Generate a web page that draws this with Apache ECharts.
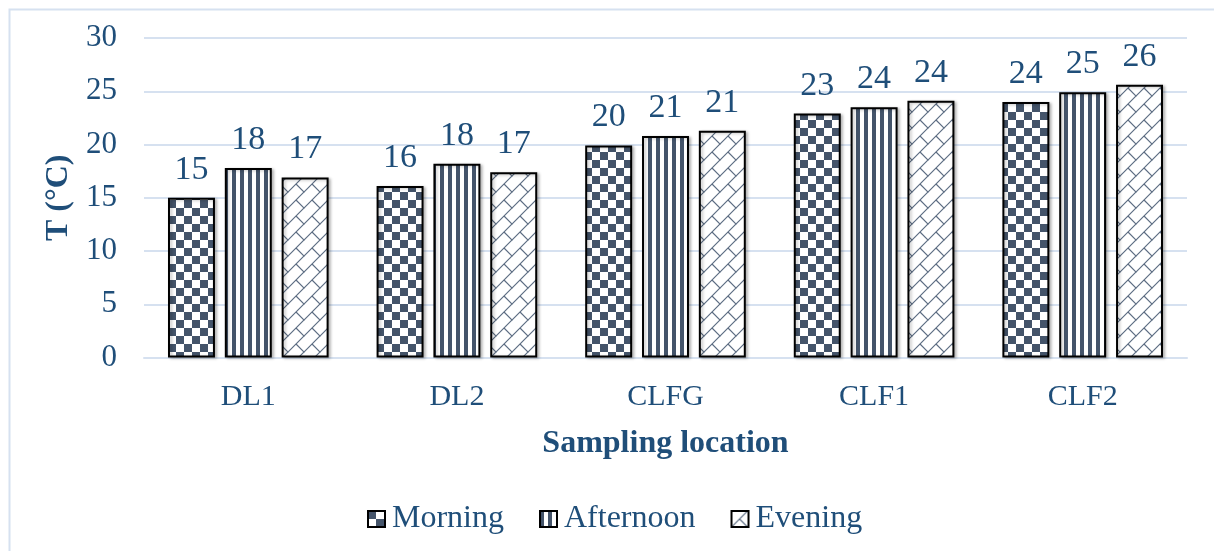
<!DOCTYPE html>
<html>
<head>
<meta charset="utf-8">
<script src="https://cdn.jsdelivr.net/npm/echarts@6/dist/echarts.min.js"></script>
<style>
  html, body { margin: 0; padding: 0; background: #fff; }
  #chart { width: 1214px; height: 551px; }
</style>
</head>
<body>
<div id="chart"></div>
<script>
// Temperature by sampling location and time of day
const categories = ['DL1', 'DL2', 'CLFG', 'CLF1', 'CLF2'];
const morning   = [15.0, 16.1, 19.9, 22.9, 24.0];
const afternoon = [17.8, 18.2, 20.8, 23.5, 24.9];
const evening   = [16.9, 17.4, 21.3, 24.1, 25.6];
const seriesNames = ['Morning', 'Afternoon', 'Evening'];

const INK = '#44546A';
const TEXT = '#1F4E79';
const FONT = '"Liberation Serif", "Times New Roman", serif';

function makeTile(w, h, draw) {
  const c = document.createElement('canvas');
  c.width = w; c.height = h;
  const ctx = c.getContext('2d');
  ctx.fillStyle = '#fff';
  ctx.fillRect(0, 0, w, h);
  draw(ctx);
  return { image: c, repeat: 'repeat' };
}

// checkerboard
const checker = makeTile(16, 16, ctx => {
  ctx.fillStyle = INK;
  ctx.fillRect(0, 0, 8, 8);
  ctx.fillRect(8, 8, 8, 8);
});

// vertical stripes
const stripes = makeTile(8, 8, ctx => {
  ctx.fillStyle = INK;
  ctx.fillRect(0, 0, 4, 8);
});

// diagonal brick
const brick = makeTile(16, 16, ctx => {
  ctx.strokeStyle = '#5d6d83';
  ctx.lineWidth = 1.2;
  ctx.beginPath();
  ctx.moveTo(-2, 18); ctx.lineTo(18, -2);
  ctx.moveTo(-2, 2); ctx.lineTo(2, -2);
  ctx.moveTo(14, 18); ctx.lineTo(18, 14);
  ctx.moveTo(8, 8); ctx.lineTo(17, 17);
  ctx.moveTo(-1, -1); ctx.lineTo(0.5, 0.5);
  ctx.stroke();
});

const fills = [checker, stripes, brick];
const values = [morning, afternoon, evening];

const chart = echarts.init(document.getElementById('chart'), null, { renderer: 'canvas' });

chart.setOption({
  backgroundColor: '#fff',
  animation: false,
  textStyle: { fontFamily: FONT },
  graphic: [{
    type: 'rect',
    left: 7, top: 7,
    shape: { width: 1400, height: 800 },
    style: { fill: 'none', stroke: '#D6E1F0', lineWidth: 2 },
    silent: true
  }],
  grid: { left: 144, right: 27, top: 38, bottom: 193.5 },
  legend: {
    data: seriesNames,
    icon: 'rect',
    left: 362,
    top: 498,
    itemWidth: 17,
    itemHeight: 16,
    itemGap: 35,
    textStyle: { fontFamily: FONT, fontSize: 32, color: TEXT, padding: [0, 0, 0, 2] }
  },
  xAxis: {
    type: 'category',
    data: categories,
    name: 'Sampling location',
    nameLocation: 'middle',
    nameGap: 70,
    nameTextStyle: { fontFamily: FONT, fontSize: 32, fontWeight: 'bold', color: TEXT },
    axisLine: { lineStyle: { color: '#D6E1F0', width: 2 } },
    axisTick: { show: false },
    axisLabel: { fontFamily: FONT, fontSize: 30, color: TEXT, margin: 25 }
  },
  yAxis: {
    type: 'value',
    min: 0, max: 30, interval: 5,
    name: 'T (°C)',
    nameLocation: 'middle',
    nameGap: 64,
    nameTextStyle: { fontFamily: FONT, fontSize: 32, fontWeight: 'bold', color: TEXT },
    axisLine: { show: false },
    axisTick: { show: false },
    splitLine: { lineStyle: { color: '#D6E1F0', width: 2 } },
    axisLabel: { fontFamily: FONT, fontSize: 31, color: TEXT, margin: 27 }
  },
  series: seriesNames.map((name, i) => ({
    name,
    type: 'bar',
    data: values[i],
    barGap: '21%',
    barCategoryGap: '23%',
    itemStyle: {
      color: fills[i],
      borderColor: '#000',
      borderWidth: 2,
      shadowColor: 'rgba(0,0,0,0.25)',
      shadowBlur: 3,
      shadowOffsetX: 2,
      shadowOffsetY: 1
    },
    label: {
      show: true,
      position: 'top',
      distance: 11,
      fontFamily: FONT,
      fontSize: 34,
      color: TEXT,
      formatter: p => Math.round(p.value).toString()
    }
  }))
});
</script>
</body>
</html>
